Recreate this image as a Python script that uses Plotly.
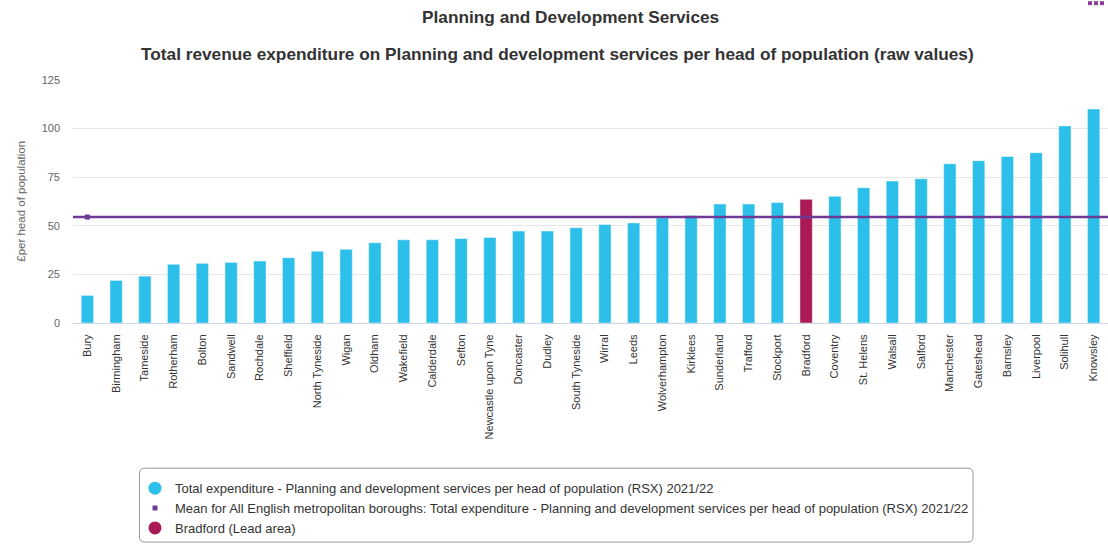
import plotly.graph_objects as go

areas = ["Bury", "Birmingham", "Tameside", "Rotherham", "Bolton", "Sandwell", "Rochdale",
         "Sheffield", "North Tyneside", "Wigan", "Oldham", "Wakefield", "Calderdale", "Sefton",
         "Newcastle upon Tyne", "Doncaster", "Dudley", "South Tyneside", "Wirral", "Leeds",
         "Wolverhampton", "Kirklees", "Sunderland", "Trafford", "Stockport", "Bradford",
         "Coventry", "St. Helens", "Walsall", "Salford", "Manchester", "Gateshead", "Barnsley",
         "Liverpool", "Solihull", "Knowsley"]
values = [14.2, 21.9, 24.1, 30.2, 30.7, 31.2, 31.9, 33.6, 36.9, 37.9, 41.3, 42.8, 42.8, 43.5,
          44.0, 47.3, 47.3, 49.0, 50.7, 51.5, 54.1, 55.3, 61.2, 61.2, 62.0, 63.6, 65.2, 69.6,
          73.0, 74.2, 81.9, 83.5, 85.7, 87.6, 101.4, 110.1]
mean_value = 54.5
lead_area = "Bradford"
y_ticks = [0, 25, 50, 75, 100, 125]

series_name = "Total expenditure - Planning and development services per head of population (RSX) 2021/22"
mean_name = "Mean for All English metropolitan boroughs: Total expenditure - Planning and development services per head of population (RSX) 2021/22"
lead_name = "Bradford (Lead area)"

CYAN = "#2CBFE9"
LEAD = "#A91A56"
PURPLE = "#6E3A96"

W, H = 1108, 547
L, R, T, B = 73, 0, 80, 223.5
PW = W - L - R
PH = H - T - B


def px(x):
    return (x - L) / PW


def py(y):
    return (H - B - y) / PH


colors = [LEAD if a == lead_area else CYAN for a in areas]

fig = go.Figure()
fig.add_trace(go.Bar(x=areas, y=values, marker=dict(color=colors,
                     line=dict(color="rgba(255,255,255,0.45)", width=1)),
                     showlegend=False, hoverinfo="x+y"))
# legend proxies
fig.add_trace(go.Scatter(x=[None], y=[None], mode="markers", name=series_name,
                         marker=dict(symbol="circle", size=13, color=CYAN)))
fig.add_trace(go.Scatter(x=[areas[0]], y=[mean_value], mode="markers", name=mean_name,
                         marker=dict(symbol="square", size=5, color=PURPLE)))
fig.add_trace(go.Scatter(x=[None], y=[None], mode="markers", name=lead_name,
                         marker=dict(symbol="circle", size=13, color=LEAD)))

fig.add_shape(type="line", xref="paper", yref="y", x0=0, x1=1, y0=mean_value, y1=mean_value,
              line=dict(color=PURPLE, width=2.5), layer="above")

# legend box (rounded)
x0, x1 = px(139.5), px(973)
y0, y1 = py(543), py(469)
rx = 5 / PW
ry = 5 / PH
path = (f"M {x0+rx},{y1} L {x1-rx},{y1} Q {x1},{y1} {x1},{y1-ry} L {x1},{y0+ry} "
        f"Q {x1},{y0} {x1-rx},{y0} L {x0+rx},{y0} Q {x0},{y0} {x0},{y0+ry} "
        f"L {x0},{y1-ry} Q {x0},{y1} {x0+rx},{y1} Z")
fig.add_shape(type="path", xref="paper", yref="paper", path=path,
              line=dict(color="#999999", width=1), fillcolor="rgba(0,0,0,0)")

# menu icon remnant top right
for cx in [1090, 1096, 1102]:
    fig.add_shape(type="rect", xref="paper", yref="paper",
                  x0=px(cx - 2), x1=px(cx + 2), y0=py(5), y1=py(1),
                  fillcolor="#8E3B9B", line=dict(width=0))

fig.add_annotation(text="<b>Planning and Development Services</b>", xref="paper", yref="paper",
                   x=px(570), y=py(5), showarrow=False,
                   font=dict(family="Liberation Sans, Arial", size=17.25, color="#333333"))
fig.add_annotation(text="<b>Total revenue expenditure on Planning and development services per head of population (raw values)</b>",
                   xref="paper", yref="paper", x=px(557), y=py(42), showarrow=False,
                   font=dict(family="Liberation Sans, Arial", size=17.25, color="#333333"))
fig.add_annotation(text="£per head of population", xref="paper", yref="paper",
                   x=px(13), y=py(202), textangle=-90, showarrow=False,
                   font=dict(family="Liberation Sans, Arial", size=11.5, color="#666666"))

fig.update_layout(
    width=W, height=H,
    margin=dict(l=L, r=R, t=T, b=B),
    paper_bgcolor="white", plot_bgcolor="white",
    bargap=0.57,
    font=dict(family="Liberation Sans, Arial", color="#333333"),
    legend=dict(x=px(135), y=py(474), xanchor="left", yanchor="top",
                bgcolor="rgba(0,0,0,0)", borderwidth=0,
                font=dict(size=13, color="#333333"), tracegroupgap=0),
    xaxis=dict(type="category", tickangle=-90, showgrid=False, showline=True,
               linecolor="#ccd6eb", linewidth=1, ticks="", ticklabelstandoff=6,
               tickfont=dict(size=11, color="#333333"), range=[-0.5, len(areas) - 0.5],
               fixedrange=True),
    yaxis=dict(range=[0, 125], tickvals=y_ticks, showgrid=True, gridcolor="#e6e6e6",
               zeroline=False, showline=False, ticks="", ticklabelstandoff=12,
               tickfont=dict(size=11, color="#666666"), fixedrange=True),
)

fig.write_html("out.html")
